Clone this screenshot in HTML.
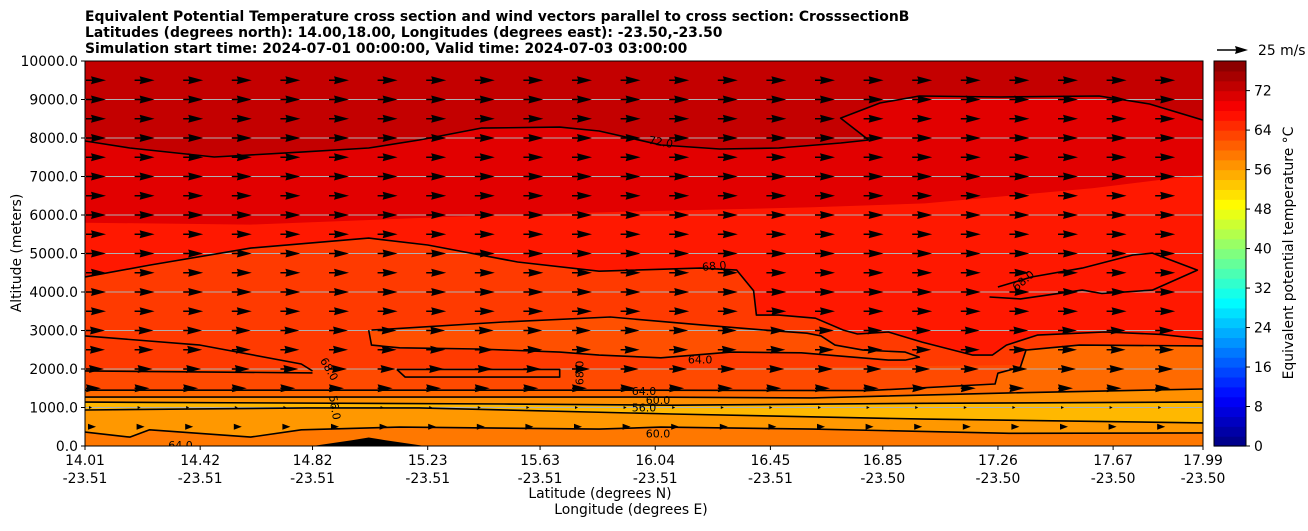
<!DOCTYPE html>
<html><head><meta charset="utf-8"><style>
body{margin:0;background:#fff;font-family:"Liberation Sans","DejaVu Sans",sans-serif;}
svg text{font-family:"DejaVu Sans","Liberation Sans",sans-serif;}
</style></head><body>
<svg id="chart" width="1308" height="526" xmlns="http://www.w3.org/2000/svg">
<defs><clipPath id="pc"><rect x="85" y="61" width="1118" height="385"/></clipPath></defs>
<g id="titles" font-weight="bold" font-size="13.9">
<text x="85" y="21">Equivalent Potential Temperature cross section and wind vectors parallel to cross section: CrosssectionB</text>
<text x="85" y="37">Latitudes (degrees north): 14.00,18.00, Longitudes (degrees east): -23.50,-23.50</text>
<text x="85" y="53">Simulation start time: 2024-07-01 00:00:00, Valid time: 2024-07-03 03:00:00</text>
</g>
<g id="plot" clip-path="url(#pc)"></g>
<rect x="85" y="61" width="1118" height="385" fill="none" stroke="#000" stroke-width="1"/>
<g id="axes"></g>
<g id="cbar"></g>
</svg>
<script>
const NS="http://www.w3.org/2000/svg";
const yTicks=[0,1000,2000,3000,4000,5000,6000,7000,8000,9000,10000];
const latTicks=["14.01","14.42","14.82","15.23","15.63","16.04","16.45","16.85","17.26","17.67","17.99"];
const lonTicks=["-23.51","-23.51","-23.51","-23.51","-23.51","-23.51","-23.51","-23.50","-23.50","-23.50","-23.50"];
const cbTicks=[0,8,16,24,32,40,48,56,64,72];
// contour lines [lat, altitude m]
const c72=[[14.01,7921],[14.17,7740],[14.47,7506],[14.78,7635],[15.02,7739],[15.2,7947],[15.42,8258],[15.7,8284],[15.84,8181],[16.06,7817],[16.27,7713],[16.48,7739],[16.7,7869],[16.8,7947],[16.7,8518],[16.84,8908],[16.98,9090],[17.27,9064],[17.62,9090],[17.8,8882],[17.99,8466]];
const c70=[[14.01,5800],[14.6,5750],[15.3,5950],[16.0,6100],[16.6,6200],[17.0,6300],[17.3,6500],[17.6,6700],[17.99,7050]];
const c68=[[14.01,4390],[14.24,4700],[14.6,5140],[15.02,5400],[15.23,5220],[15.55,4780],[15.84,4540],[16.2,4620],[16.33,4570],[16.39,4030],[16.4,3400],[16.48,3400],[16.61,3320],[16.71,3010],[16.76,2910],[16.87,2960],[16.99,2700],[17.17,2360],[17.24,2360],[17.29,2620],[17.4,2880],[17.64,2960],[17.84,2900],[17.99,2780]];
const c64loop=[[15.02,3010],[15.03,2620],[15.13,2550],[15.41,2520],[15.7,2440],[15.84,2360],[16.06,2290],[16.31,2440],[16.56,2420],[16.87,2230],[16.93,2230],[16.98,2310],[16.93,2440],[16.78,2490],[16.68,2620],[16.63,2860],[16.58,2930],[16.43,3010],[16.21,3140],[15.88,3350],[15.5,3220],[15.03,3010]];
const c64=[[14.01,1450],[15.0,1450],[16.0,1450],[16.8,1440],[17.25,1610],[17.26,1890],[17.34,2050],[17.36,2490],[17.55,2620],[17.99,2600]];
const c60=[[14.01,1270],[15.0,1270],[16.0,1270],[16.6,1250],[17.3,1380],[17.99,1480]];
const c56a=[[14.01,1140],[15.5,1090],[16.1,1060],[17.0,1110],[17.99,1140]];
const c56b=[[14.01,935],[14.8,990],[15.2,990],[16.1,830],[17.0,700],[17.99,600]];
const c60low=[[14.01,360],[14.17,230],[14.24,420],[14.6,230],[14.78,420],[15.13,490],[15.84,440],[16.06,490],[16.6,440],[17.3,330],[17.99,340]];
const c68left=[[14.01,2860],[14.42,2620],[14.78,2130],[14.82,1950]];
const c68left2=[[14.01,1950],[14.82,1900]];
const c68mid=[[15.12,1990],[15.7,1990],[15.7,1790],[15.15,1790],[15.12,1990]];
const c68right=[[17.26,4130],[17.38,4390],[17.56,4620],[17.74,4960],[17.81,5010],[17.97,4570],[17.81,4050],[17.63,3960],[17.56,4050],[17.34,3820],[17.23,3870]];
const terrain=[[14.82,0],[14.96,150],[15.02,220],[15.08,150],[15.22,0]];
const windRows=[500,1000,1500,2000,2500,3000,3500,4000,4500,5000,5500,6000,6500,7000,7500,8000,8500,9000,9500];
const windSpeed=[4,1,8,11,12,12,13,13,13,13,13,13,13,13,13,13,13,13,13];
const X=lat=>85+(lat-14.01)/(17.99-14.01)*1118;
const Y=a=>446-a/10000*385;
const plot=document.getElementById('plot'),axes=document.getElementById('axes'),cbar=document.getElementById('cbar');
function mk(tag,attrs,parent){const e=document.createElementNS(NS,tag);for(const k in attrs)e.setAttribute(k,attrs[k]);parent.appendChild(e);return e;}
const pts=a=>a.map(p=>X(p[0]).toFixed(1)+","+Y(p[1]).toFixed(1)).join(" ");
function fillAbove(line,color,name){const e=mk('polygon',{points:pts(line)+` ${X(17.99)+5},${Y(line[line.length-1][1])} 1210,40 80,40 80,${Y(line[0][1])}`,fill:color},plot);

}
function fillBelow(line,color,name){const e=mk('polygon',{points:pts(line)+` 1210,${Y(line[line.length-1][1])} 1210,460 80,460 80,${Y(line[0][1])}`,fill:color},plot);

}
mk('rect',{x:80,y:55,width:1130,height:400,fill:'#ff3a00'},plot);
fillAbove(c68,'#ff1800','fill-above-68');
fillAbove(c70,'#e20000','fill-above-70');
fillAbove(c72,'#c40000','fill-above-72');
let lp=mk('polygon',{points:pts(c64loop),fill:'#ff5000'},plot);


fillBelow([[14.01,2000],[16.0,2000],[17.3,2100],[17.99,2400]],'#ff4a00','fill-below-2000');
fillBelow(c64,'#ff6a00','fill-below-64');
fillBelow(c60,'#ff9000','fill-below-60');
fillBelow(c56a,'#ffb800','fill-below-56');
fillBelow(c56b,'#ff9800','fill-below-56b');
fillBelow(c60low,'#ff7800','fill-below-60low');
let tr=mk('polygon',{points:pts(terrain),fill:'#000'},plot);


yTicks.forEach(v=>{const g=mk('line',{x1:85,x2:1203,y1:Y(v),y2:Y(v),stroke:'#b0b0b0','stroke-width':1},plot);

});
[[c72,'contour-72'],[c68,'contour-68'],[c64loop,'contour-64-loop'],[c64,'contour-64'],[c60,'contour-60'],[c56a,'contour-56-upper'],[c56b,'contour-56-lower'],[c60low,'contour-60-low'],[c68left,'contour-68-left'],[c68left2,'contour-68-left2'],[c68mid,'contour-68-mid'],[c68right,'contour-68-right']].forEach(([c,n])=>{
const e=mk('polyline',{points:pts(c),fill:'none',stroke:'#000','stroke-width':1.6,'stroke-linejoin':'round'},plot);

});
const labels=[[16.25,4680,'68.0',-5],[16.06,7900,'72.0',10],[17.35,4300,'68.0',-40],[16.2,2250,'64.0',0],[16.0,1430,'64.0',0],[16.05,1200,'60.0',0],[16.0,1000,'56.0',0],[16.05,330,'60.0',0],[14.35,30,'64.0',0],[14.88,2000,'68.0',60],[14.9,1000,'56.0',80],[15.77,1900,'68.0',-90]];
labels.forEach(([la,al,t,r])=>{const e=mk('text',{x:X(la),y:Y(al)+4,'font-size':11,'text-anchor':'middle',transform:`rotate(${r},${X(la)},${Y(al)})`},plot);e.textContent=t;

});
windRows.forEach((alt,ri)=>{const L=windSpeed[ri];for(let i=0;i<24;i++){const x=86+i*48.6,y=Y(alt);
const a=mk('path',{d:L<3?`M${x+3},${y-1.5}L${x+6},${y}L${x+3},${y+1.5}Z`:L<6?`M${x+2},${y-3}L${x+10},${y}L${x+2},${y+3}Z`:`M${x},${y-0.8}L${x+L-7},${y-0.8}L${x+L-8},${y-4}L${x+L+7},${y}L${x+L-8},${y+4}L${x+L-7},${y+0.8}L${x},${y+0.8}Z`,fill:'#000'},plot);

}});
yTicks.forEach(v=>{mk('line',{x1:81,x2:85,y1:Y(v),y2:Y(v),stroke:'#000'},axes);
const t=mk('text',{x:78,y:Y(v)+5,'font-size':13.9,'text-anchor':'end'},axes);t.textContent=v.toFixed(1);

});
latTicks.forEach((l,i)=>{const x=X(parseFloat(l));mk('line',{x1:x,x2:x,y1:446,y2:450,stroke:'#000'},axes);
const t=mk('text',{x:x,y:465,'font-size':13.9,'text-anchor':'middle'},axes);t.textContent=l;


const t2=mk('text',{x:x,y:483,'font-size':13.9,'text-anchor':'middle'},axes);t2.textContent=lonTicks[i];

});
const xl=mk('text',{x:600,y:498,'font-size':13.9,'text-anchor':'middle'},axes);xl.textContent='Latitude (degrees N)';


const xl2=mk('text',{x:631,y:514,'font-size':13.9,'text-anchor':'middle'},axes);xl2.textContent='Longitude (degrees E)';


const yl=mk('text',{x:21,y:253,'font-size':13.9,'text-anchor':'middle',transform:'rotate(-90,21,253)'},axes);yl.textContent='Altitude (meters)';


function jet(v){const c=x=>Math.max(0,Math.min(1,x));const r=c(1.5-Math.abs(4*v-3)),g=c(1.5-Math.abs(4*v-2)),b=c(1.5-Math.abs(4*v-1));return `rgb(${r*255|0},${g*255|0},${b*255|0})`;}
const CB=v=>446-v/78*385;
for(let k=0;k<39;k++){const e=mk('rect',{x:1214,y:CB(2*k+2),width:32,height:385/39+0.6,fill:jet((2*k+1)/78)},cbar);

}
mk('rect',{x:1214,y:61,width:32,height:385,fill:'none',stroke:'#000'},cbar);
cbTicks.forEach(v=>{mk('line',{x1:1246,x2:1250,y1:CB(v),y2:CB(v),stroke:'#000'},cbar);
const t=mk('text',{x:1254,y:CB(v)+5,'font-size':13.9},cbar);t.textContent=v;

});
const cl=mk('text',{x:1293,y:253,'font-size':13.9,'text-anchor':'middle',transform:'rotate(-90,1293,253)'},cbar);cl.textContent='Equivalent potential temperature °C';


const qk=mk('path',{d:'M1217,49.3L1236,49.3L1235,46L1248,50L1235,54L1236,50.7L1217,50.7Z',fill:'#000'},cbar);


const qt=mk('text',{x:1258,y:55,'font-size':13.9},cbar);qt.textContent='25 m/s';


</script>
</body></html>
